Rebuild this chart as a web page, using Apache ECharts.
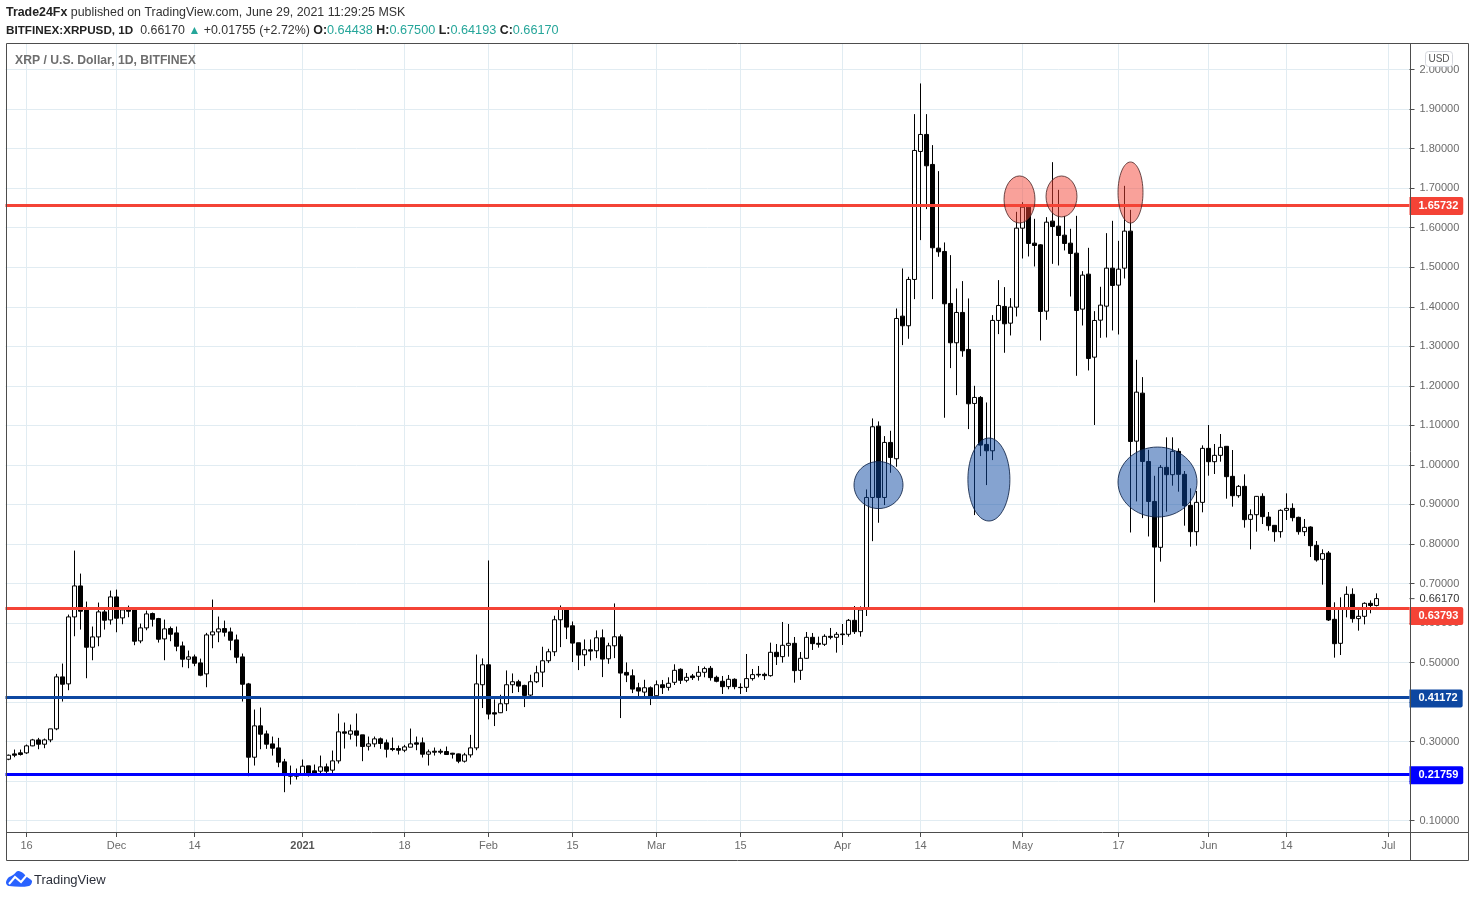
<!DOCTYPE html>
<html><head><meta charset="utf-8">
<style>html,body{margin:0;padding:0;background:#fff}#c{width:1475px;height:897px}</style>
<script src="https://cdn.jsdelivr.net/npm/echarts@6/dist/echarts.min.js"></script>
</head><body><div id="c"></div>
<script>
const opens = [
.2554,.2689,.2715,.2715,.2892,.3043,.2934,.3043,.3322,.4637,.4460,.6154,.6938,.6340,.5387,.5648,.6281,.6078,
.6660,.6129,.6382,.6365,.5547,.5876,.6239,.6112,.5598,.5859,.5750,.5421,.5084,.5143,.4991,.4713,.5699,.5775,.5859,.5775,.5573,.5143,.4460,.2605,.3398,.3195,.2942,.2841,.2487,.2150,.2150,
.2166,.2386,.2260,.2251,.2361,.2277,.2512,.3246,.3187,.3271,.3170,.2883,.2942,.3069,.2968,.2824,.2824,.2782,.2858,.2968,.2968,.2681,.2757,.2757,.2749,.2706,.2689,.2504,.2664,.2841,.4438,
.4943,.3730,.3730,.3957,.4438,.4514,.4421,.4176,.4514,.4758,.5045,.5272,.6082,.6351,.5930,.5500,.5196,.5323,.5298,.5626,.5095,.5424,.5652,.4750,.4665,.4362,.4252,.4362,
.4160,.4438,.4373,.4500,.4829,.4550,.4660,.4652,.4753,.4854,.4626,.4525,.4390,.4576,.4373,.4373,.4593,.4702,.4702,.4668,.5259,.5149,.5436,.5486,.4803,.5107,.5638,.5486,.5461,.5663,.5638,
.5722,.5714,.6068,.5781,.6360,.9176,1.098,.9176,1.0568,1.0155,1.3763,1.3519,1.4691,1.7929,1.8359,1.76,1.5483,1.5399,1.4084,1.3089,1.3856,1.2920,1.1554,1.1706,1.0517,1.0357,1.3654,1.4008,1.3585,1.399,
1.5989,1.652,1.5609,1.5567,1.3889,1.6166,1.6039,1.5811,1.5609,1.5356,1.394,1.4825,1.2725,1.3661,1.4015,1.4977,1.4547,1.4977,1.5913,1.06,1.1815,1.0086,.9075,.7914,.9938,.9752,1.0342,.9761,.8976,.831,.9052,
1.0418,1.0081,1.0241,1.047,.971,.9221,.9457,.8622,.874,.9204,.8681,.8471,.831,.885,.8900,.8673,.831,.8428,.7965,.7611,.7771,.6093,.5486,.6371,.6725,.611,.6169,.6498,.64438];
const highs = [
.2672,.2799,.2799,.2925,.3069,.3094,.3077,.3322,.4713,.4974,.6213,.7832,.7250,.6542,.5910,.6517,.6357,.6820,
.6845,.6400,.6441,.6382,.5986,.6314,.6264,.6129,.6087,.5910,.5910,.5530,.5303,.5202,.5100,.5750,.6593,.6163,.6061,.5884,.5707,.5227,.4485,.3811,.3861,.3280,.3128,.3094,.2563,.2394,.2319,
.2546,.2386,.2420,.2647,.2445,.2774,.3710,.3482,.3431,.3710,.3170,.3128,.3128,.3103,.3052,.3103,.2900,.2917,.3330,.3128,.3103,.2799,.2850,.2816,.2875,.2715,.2698,.2715,.3170,.5202,.5104,
.7582,.4067,.4185,.4800,.4724,.4564,.4438,.4691,.4918,.5399,.5348,.6183,.6444,.6402,.6039,.5500,.5584,.5584,.5812,.5837,.5500,.6495,.5711,.5003,.4826,.4488,.4564,.4396,
.4547,.4559,.4626,.4955,.4854,.4736,.4711,.4913,.4896,.4913,.4668,.4660,.4685,.4601,.4475,.5216,.4837,.4913,.4744,.5503,.5469,.6026,.5975,.5646,.5267,.5773,.5748,.5655,.5714,.5874,.5773,
.5975,.6102,.6430,.6420,.9379,1.1175,1.110,1.0728,1.0863,1.3957,1.4969,1.4758,1.8873,1.9649,1.8873,1.8089,1.7431,1.5627,1.5306,1.4463,1.4649,1.4210,1.2,1.174,1.1579,1.3789,1.4674,1.4497,1.4218,1.6402,
1.6646,1.6553,1.6225,1.5584,1.6267,1.7658,1.6958,1.63,1.5972,1.63,1.4901,1.5491,1.3889,1.4505,1.5862,1.6174,1.5668,1.7059,1.6452,1.2658,1.222,1.0381,.9724,.9997,1.0697,1.0697,1.0418,.9845,.9407,.9339,1.0494,
1.1008,1.0528,1.0781,1.0477,1.0376,.9491,.9761,.8875,.9213,.928,.8808,.8479,.8875,.928,.9027,.869,.8631,.8445,.8074,.7864,.7821,.6523,.6649,.6928,.6877,.6371,.6523,.6573,.675];
const lows = [
.2529,.2605,.2647,.2689,.2883,.2807,.2833,.2984,.3288,.4013,.4300,.5665,.5834,.4603,.5058,.5412,.5834,.5960,
.5766,.5969,.6146,.5438,.5488,.5817,.5910,.5505,.5058,.5539,.5286,.4881,.4856,.4907,.4654,.4375,.5362,.5514,.5657,.5311,.4982,.4013,.2125,.2394,.2807,.2816,.2647,.2352,.1720,.1914,.2040,
.2141,.2116,.2167,.2184,.2184,.2209,.2445,.2824,.3052,.2875,.2504,.2774,.2858,.2816,.2597,.2757,.2673,.2732,.2858,.2782,.2597,.2394,.2647,.2681,.2664,.2571,.2453,.2470,.2597,.2782,.3848,
.3561,.3393,.3721,.3772,.4227,.4252,.3873,.4143,.4480,.4379,.4986,.5163,.5390,.5593,.5011,.4809,.4910,.5053,.5112,.4632,.4969,.5112,.3595,.4505,.4227,.4143,.4143,.3924,
.4143,.4205,.4289,.4432,.4458,.4500,.4559,.4542,.4626,.4542,.4500,.4205,.4323,.4323,.4205,.4255,.4542,.4626,.4559,.4643,.4938,.4997,.5149,.4491,.4559,.5090,.5318,.5377,.5419,.5587,.5250,
.5444,.5655,.5722,.5655,.6177,.807,.8536,.8983,.98,.9953,1.3030,1.3190,1.4193,1.5686,1.647,1.4193,1.5264,1.1192,1.2448,1.1765,1.2735,1.0905,.8730,1.0222,.9489,1.0121,1.3308,1.2836,1.3274,1.3754,
1.5221,1.5272,1.5019,1.3147,1.367,1.5086,1.5044,1.5424,1.426,1.2253,1.3526,1.2388,1.1009,1.3214,1.3223,1.34,1.3299,1.4715,.829,.9075,.8653,.8189,.652,.7552,.8816,.9474,.9322,.8462,.7931,.7956,.88,
.9727,.9769,1.0081,.9145,.8943,.917,.8412,.7864,.831,.8504,.8336,.8057,.8159,.8606,.8572,.8235,.82,.767,.7552,.697,.6051,.5123,.519,.6143,.6009,.5806,.5966,.6245,.64193];
const closes = [
.2655,.2655,.2673,.2892,.3043,.2934,.3043,.3322,.4637,.4451,.6154,.6938,.6298,.5387,.5648,.6281,.6070,.6660,
.6121,.6331,.6298,.5539,.5876,.6230,.6095,.5589,.5851,.5716,.5412,.5084,.5143,.4982,.4679,.5699,.5775,.5851,.5766,.5564,.5134,.4451,.2605,.3398,.3187,.2934,.2833,.2479,.2141,.2125,.2125,
.2377,.2184,.2184,.2361,.2251,.2512,.3246,.3212,.3271,.3162,.2875,.2942,.3069,.2951,.2807,.2799,.2782,.2866,.2942,.2934,.2681,.2740,.2732,.2732,.2673,.2681,.2504,.2664,.2841,.4460,.4943,
.3696,.3696,.3957,.4438,.4514,.4404,.4168,.4514,.4741,.5045,.5272,.6082,.6351,.5896,.5491,.5188,.5323,.5289,.5626,.5087,.5424,.5652,.4733,.4682,.4328,.4278,.4362,.4151,
.4438,.4365,.4475,.4803,.4550,.4626,.4618,.4753,.4846,.4618,.4525,.4390,.4576,.4390,.4365,.4593,.4694,.4685,.4668,.5259,.5149,.5436,.5486,.4795,.5107,.5638,.5478,.5461,.5663,.5638,.5714,
.5705,.6068,.5781,.6329,.9176,1.0964,.9176,1.0568,1.0188,1.3704,1.3519,1.4691,1.7954,1.8359,1.7566,1.5492,1.539,1.4075,1.3089,1.3856,1.2886,1.1546,1.1706,1.05,1.0357,1.3654,1.4033,1.3569,1.399,1.5989,
1.652,1.5601,1.555,1.388,1.614,1.603,1.5803,1.5601,1.5348,1.3906,1.480,1.2692,1.3653,1.4041,1.4977,1.4538,1.4951,1.5913,1.0592,1.184,1.0086,.9075,.792,.9938,.9752,1.0342,.9761,.8968,.831,.9052,1.0418,
1.0081,1.0241,1.0444,.9702,.9221,.9457,.8614,.8740,.9204,.869,.8462,.831,.885,.8900,.8665,.831,.842,.7956,.7594,.7754,.6076,.5477,.6371,.6725,.611,.6169,.6498,.64438,.6617];

const firstDate = '2020-11-13';
const bandCount = 234;
const tickDates = ['2020-11-16','2020-12-01','2020-12-14','2021-01-01','2021-01-18','2021-02-01','2021-02-15','2021-03-01','2021-03-15','2021-04-01','2021-04-14','2021-05-01','2021-05-17','2021-06-01','2021-06-14','2021-07-01'];
const tickLabels = ['16','Dec','14','2021','18','Feb','15','Mar','15','Apr','14','May','17','Jun','14','Jul'];
const priceTicks = [0.1,0.2,0.3,0.4,0.5,0.6,0.7,0.8,0.9,1.0,1.1,1.2,1.3,1.4,1.5,1.6,1.7,1.8,1.9,2.0];
const levelValues = [1.65732,0.63793,0.41172,0.21759];
const levelColors = ['#f44336','#f44336','#0d47a1','#0000ff'];
const levelTagShift = [1,8,1,1];
const lastPrice = 0.6617;
// ellipse annotations: centre date, centre price, day offset, radius in days, radius in price
const zoneDates  = ['2021-04-07','2021-04-25','2021-05-23','2021-04-30','2021-05-07','2021-05-19'];
const zonePrices = [0.949,0.963,0.9566,1.6714,1.679,1.689];
const zoneOffsets= [0,0.4,0.5,0.5,0.5,0];
const zoneRx     = [4.08,3.5,6.58,2.58,2.58,2.08];
const zoneRy     = [0.0595,0.105,0.0885,0.0595,0.0518,0.0772];
const zoneFills  = ['b','b','b','r','r','r'];

const categories = [];
{ const t0 = Date.parse(firstDate+'T00:00:00Z');
  for (let i=0;i<bandCount;i++) categories.push(new Date(t0+i*864e5).toISOString().slice(0,10)); }
const tickMap = {}; tickDates.forEach((d,i)=>tickMap[d]=tickLabels[i]);
const isTick = (i,v)=>tickMap[v]!==undefined;
const candle = opens.map((o,i)=>[o,closes[i],lows[i],highs[i]]);
const axisGrey='#4d4d4d', labelGrey='#6b6b6b', font='"Liberation Sans",Arial,sans-serif';

const chart = echarts.init(document.getElementById('c'),null,{width:1475,height:897});
chart.setOption({
  animation:false,
  backgroundColor:'#fff',
  title:[
    {left:6,top:7,padding:0,text:'{b|Trade24Fx} published on TradingView.com, June 29, 2021 11:29:25 MSK',
     textStyle:{fontFamily:font,fontSize:12.4,fontWeight:'normal',color:'#333',rich:{b:{fontFamily:font,fontSize:12.4,fontWeight:'bold',color:'#222'}}}},
    {left:6,top:24,padding:0,text:'{a|BITFINEX:XRPUSD, 1D}  0.66170 {t|▲} +0.01755 (+2.72%) {b|O:}{g|0.64438} {b|H:}{g|0.67500} {b|L:}{g|0.64193} {b|C:}{g|0.66170}',
     textStyle:{fontFamily:font,fontSize:12.4,fontWeight:'normal',color:'#333',rich:{a:{fontFamily:font,fontSize:11.7,fontWeight:'bold',color:'#222'},b:{fontFamily:font,fontSize:12.4,fontWeight:'bold',color:'#222'},g:{fontFamily:font,fontSize:12.7,color:'#26a69a'},t:{fontFamily:font,fontSize:12,color:'#26a69a'}}}},
    {left:15,top:55,padding:0,text:'XRP / U.S. Dollar, 1D, BITFINEX',textStyle:{fontFamily:font,fontSize:12.2,fontWeight:'bold',color:'#6e6e6e'}},
    {left:34,top:874,padding:0,text:'TradingView',textStyle:{fontFamily:font,fontSize:13,fontWeight:'normal',color:'#2a2e39'}}
  ],
  grid:{left:5.5,top:44,width:1404,height:788,containLabel:false},
  xAxis:{type:'category',data:categories,
    axisLine:{show:false},
    axisTick:{show:true,length:5,interval:isTick,alignWithLabel:true,lineStyle:{color:axisGrey}},
    splitLine:{show:true,interval:isTick,alignWithLabel:true,lineStyle:{color:'#e1ecf2',width:1}},
    axisLabel:{interval:isTick,margin:8,fontFamily:font,fontSize:11,color:labelGrey,
      formatter:v=>v==='2021-01-01'?'{y|2021}':(tickMap[v]||''),
      rich:{y:{fontFamily:font,fontSize:11,fontWeight:'bold',color:'#555'}}}
  },
  yAxis:{type:'value',position:'right',min:0.0713,max:2.0647,scale:true,
    axisLine:{show:false},
    axisTick:{show:true,length:5,customValues:priceTicks,lineStyle:{color:axisGrey}},
    splitLine:{show:true,lineStyle:{color:'#e1ecf2',width:1}},
    axisLabel:{customValues:priceTicks,margin:10,fontFamily:font,fontSize:11,color:labelGrey,formatter:v=>v.toFixed(5)}
  },
  series:[
    {type:'candlestick',data:candle,barWidth:4,z:2,
     itemStyle:{color:'#fff',color0:'#000',borderColor:'#000',borderColor0:'#000',borderWidth:1}},
    {type:'line',data:[],z:4,silent:true,
     markLine:{silent:true,symbol:'none',animation:false,precision:5,z:4,
       data:[{yAxis:lastPrice,lineStyle:{width:1,color:'rgba(0,0,0,0)'},
         label:{show:true,position:'end',distance:0,color:'#333',formatter:'{t|}{v|'+lastPrice.toFixed(5)+'}',
           rich:{t:{width:5,height:1,backgroundColor:axisGrey},v:{padding:[0,0,0,5],fontFamily:font,fontSize:11,color:'#333'}}}}]
        .concat(levelValues.map((v,i)=>({yAxis:v,
         lineStyle:{color:levelColors[i],width:3,type:'solid'},
         label:{show:true,position:'end',distance:0,offset:[0,levelTagShift[i]],formatter:v.toFixed(5),
           color:'#fff',fontFamily:font,fontSize:11,fontWeight:'bold',
           backgroundColor:levelColors[i],padding:[4,5,3,9],borderRadius:[0,2,2,0]}})))
     }},
    {type:'custom',z:6,silent:true,clip:false,encode:{x:0,y:1},
     data:zoneDates.map((d,i)=>[d,zonePrices[i],zoneOffsets[i],zoneRx[i],zoneRy[i],zoneFills[i]==='b'?0:1]),
     renderItem:(p,api)=>{
       const c=api.coord([api.value(0),api.value(1)]);
       const bw=api.size([1,0],[api.value(0),api.value(1)])[0];
       const top=api.coord([api.value(0),api.value(1)+api.value(4)])[1];
       const blue=api.value(5)===0;
       return {type:'ellipse',shape:{cx:c[0]+api.value(2)*bw,cy:c[1],rx:api.value(3)*bw,ry:c[1]-top},
         style:{fill:blue?'rgba(11,71,161,0.5)':'rgba(244,67,54,0.5)',stroke:blue?'rgba(15,35,70,0.85)':'rgba(70,35,35,0.8)',lineWidth:1}};
     }}
  ],
  graphic:[
    {type:'rect',z:10,shape:{x:6.5,y:43.5,width:1462,height:817},style:{fill:'none',stroke:axisGrey,lineWidth:1}},
    {type:'line',z:10,shape:{x1:6,y1:832.5,x2:1468,y2:832.5},style:{stroke:axisGrey,lineWidth:1}},
    {type:'line',z:10,shape:{x1:1410.5,y1:43,x2:1410.5,y2:860},style:{stroke:axisGrey,lineWidth:1}},
    {type:'rect',z:11,shape:{x:1425.5,y:51.5,width:27,height:15,r:3},style:{fill:'#fff',stroke:'#d6d8de',lineWidth:1}},
    {type:'text',z:12,x:1439,y:59,style:{text:'USD',fontFamily:font,fontSize:10,fill:'#555',textAlign:'center',textVerticalAlign:'middle'}},
    {type:'polygon',z:11,shape:{smooth:0.35,points:[[9,886],[6,883],[8,878],[13,875],[18,871],[23,873],[27,877],[32,881],[29,886]]},style:{fill:'#2962ff'}},
    {type:'polyline',z:12,shape:{points:[[9,884],[15,877],[21,882],[27,875]]},style:{fill:'none',stroke:'#fff',lineWidth:2}}
  ]
});
</script></body></html>
